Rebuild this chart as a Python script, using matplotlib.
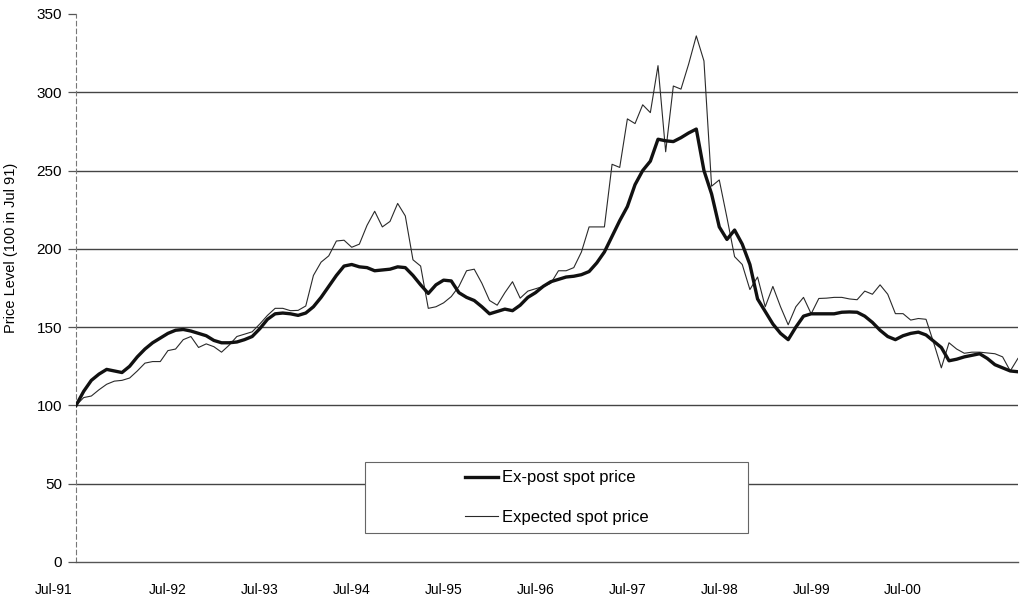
import matplotlib
matplotlib.use("Agg")
import matplotlib.pyplot as plt
import matplotlib.transforms as mtransforms
from matplotlib.patches import Rectangle
import numpy as np

# monthly index levels, Jul-91 = 100 (Jul-91 .. Oct-01)
ex_post = [
    100, 109, 116, 120, 123, 122, 121, 125, 131, 136, 140, 143,
    146, 148, 148.5, 147.5, 146, 144.5, 141.5, 140, 140, 140.5, 142, 144,
    149, 155, 158.5, 159, 158.5, 157.5, 159, 163, 169, 176, 183, 189,
    190, 188.5, 188, 186, 186.5, 187, 188.5, 188, 183, 177, 171.5, 177,
    180, 179.5, 172, 169, 167, 163, 158.5, 160, 161.5, 160.5, 164, 169,
    172, 176, 179, 180.5, 182, 182.5, 183.5, 185.5, 191, 198, 208, 218,
    227, 241, 250, 256, 270, 269, 268.5, 271, 274, 276.5, 250, 235,
    214, 206, 212, 203, 190, 168, 160, 152, 146, 142, 150, 157,
    158.5, 158.5, 158.5, 158.5, 159.5, 159.7, 159.5, 157, 153, 148, 144, 142,
    144.5, 146, 146.8, 145, 141, 137, 128.5, 129.5, 131, 132, 133, 130,
    126, 124, 122, 121.5,
]
expected = [
    100, 105, 106, 110, 113.5, 115.5, 116, 117.5, 122, 127, 128, 128,
    135, 136, 142, 144, 137, 139.3, 137.5, 134, 138.5, 144, 145.5, 147,
    152, 157.5, 162, 162, 160.5, 160.7, 163.5, 183, 191.5, 195.5, 205, 205.5,
    201, 203, 215, 224, 214, 217.5, 229, 221, 193, 189, 162, 163,
    165.5, 169.5, 176, 186, 187, 178, 167, 164, 172, 179, 168.5, 173,
    174.5, 176, 178, 186, 186, 188, 198, 214, 214, 214, 254, 252,
    283, 280, 292, 287, 317, 262, 304, 302, 318, 336, 320, 240,
    244, 220, 195, 190, 174, 182, 163, 176, 163, 151.5, 163, 169,
    158.5, 168.3, 168.5, 169, 169, 168, 167.5, 173, 171, 177, 171, 158.6,
    158.6, 154.5, 155.5, 155, 140, 124, 140, 136, 133.3, 134, 134, 133.5,
    133, 131, 122, 130,
]
year_labels = ["Jul-91", "Jul-92", "Jul-93", "Jul-94", "Jul-95",
               "Jul-96", "Jul-97", "Jul-98", "Jul-99", "Jul-00"]
y_ticks = [0, 50, 100, 150, 200, 250, 300, 350]

font = ["Liberation Sans", "DejaVu Sans"]
plt.rcParams["font.family"] = font

months = np.arange(len(ex_post))

fig = plt.figure(figsize=(10.22, 6.08), dpi=100)
ax = fig.add_axes([0.0744, 0.0757, 0.9216, 0.9013])

# horizontal rules (not at 0 / 350)
for v in y_ticks[1:-1]:
    ax.axhline(v, color="#444444", lw=1.0, zorder=1)

ax.plot(months, expected, color="#2a2a2a", lw=0.8, zorder=3, label="Expected spot price")
ax.plot(months, ex_post, color="#111111", lw=2.4, zorder=4, label="Ex-post spot price")

ax.set_xlim(0, 123)
ax.set_ylim(0, 350)
ax.set_yticks(y_ticks)
ax.set_xticks(months[::12][:len(year_labels)])
ax.set_xticklabels(year_labels)

for s in ["top", "right"]:
    ax.spines[s].set_visible(False)
ax.spines["left"].set_linestyle((0, (4, 3)))
ax.spines["left"].set_color("#777777")
ax.spines["left"].set_linewidth(0.8)
ax.spines["bottom"].set_color("#555555")
ax.spines["bottom"].set_linewidth(1.0)

ax.tick_params(axis="y", length=6, width=0.9, color="#555555", pad=4, labelsize=11)
ax.tick_params(axis="x", length=0, pad=15, labelsize=10)

# Excel nudges the first category label left
first = ax.get_xticklabels()[0]
first.set_transform(first.get_transform() + mtransforms.ScaledTranslation(-0.22, 0, fig.dpi_scale_trans))

ax.set_ylabel("Price Level (100 in Jul 91)", fontsize=10.5)
ax.yaxis.set_label_coords(-0.0616, 0.573)

# legend box
box = Rectangle((0.307, 0.0529), 0.4066, 0.1296, transform=ax.transAxes,
                facecolor="white", edgecolor="#666666", lw=0.8, zorder=5)
ax.add_patch(box)
handles, labels = ax.get_legend_handles_labels()
leg = ax.legend(handles[::-1], labels[::-1], loc="center", bbox_to_anchor=(0.5103, 0.1177),
                frameon=False, fontsize=12, handlelength=2.0, handletextpad=0.2,
                labelspacing=1.45)
leg.set_zorder(6)

fig.savefig("out.png", dpi=100)
